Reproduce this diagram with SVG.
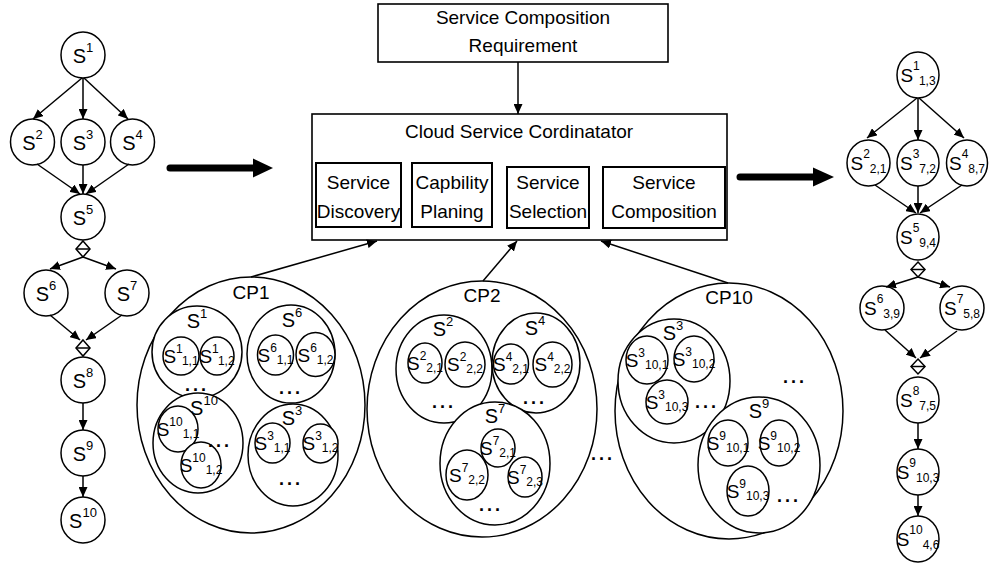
<svg xmlns="http://www.w3.org/2000/svg" width="989" height="565" viewBox="0 0 989 565">
<style>
text{font-family:"Liberation Sans",Arial,sans-serif;fill:#000}
.t{font-size:19px;text-anchor:middle}
.s{font-size:19px;text-anchor:middle}
.L{font-size:20px}
.sm{font-size:12px}
.sl{font-size:13px}
.d{font-size:18px;font-weight:bold;text-anchor:middle;letter-spacing:3px}
.o{fill:#fff;stroke:#000;stroke-width:1.5}
.b{fill:#fff;stroke:#000;stroke-width:1.6}
.sb{fill:#fff;stroke:#000;stroke-width:2}
.c{fill:none;stroke:#000;stroke-width:1.5}
.big{fill:none;stroke:#000;stroke-width:7;stroke-linecap:round}
</style>
<defs>
<marker id="ah" markerWidth="10" markerHeight="9" refX="10" refY="4.5" orient="auto" markerUnits="userSpaceOnUse"><path d="M0,0 L10,4.5 L0,9 z" fill="#000"/></marker>
</defs>

<!-- center boxes -->
<g id="req"><rect class="b" x="378" y="4" width="290" height="58"/>
<text class="t" x="523" y="24">Service Composition</text>
<text class="t" x="523" y="52">Requirement</text></g>
<g id="coord"><rect class="b" x="312" y="114" width="415" height="126"/>
<text class="t" x="519" y="138">Cloud Service Cordinatator</text>
<g id="disc"><rect class="sb" x="316" y="163" width="85" height="64"/><text class="t" x="358.5" y="189">Service</text><text class="t" x="358.5" y="218">Discovery</text></g>
<g id="plan"><rect class="sb" x="412" y="163" width="80" height="64"/><text class="t" x="452" y="189">Capbility</text><text class="t" x="452" y="218">Planing</text></g>
<g id="sel"><rect class="sb" x="507" y="167" width="82" height="61"/><text class="t" x="548" y="189">Service</text><text class="t" x="548" y="218">Selection</text></g>
<g id="comp"><rect class="sb" x="603" y="167" width="122" height="61"/><text class="t" x="664" y="189">Service</text><text class="t" x="664" y="218">Composition</text></g>
</g>

<!-- left workflow -->
<g id="L1"><ellipse class="o" cx="83" cy="55" rx="22" ry="23"/><text class="s L" x="83" y="63">S<tspan class="sl" dy="-11">1</tspan></text></g>
<g id="L2"><ellipse class="o" cx="32.5" cy="142" rx="22" ry="23"/><text class="s L" x="32.5" y="150">S<tspan class="sl" dy="-11">2</tspan></text></g>
<g id="L3"><ellipse class="o" cx="83" cy="142" rx="22" ry="23"/><text class="s L" x="83" y="150">S<tspan class="sl" dy="-11">3</tspan></text></g>
<g id="L4"><ellipse class="o" cx="132.5" cy="142" rx="22" ry="23"/><text class="s L" x="132.5" y="150">S<tspan class="sl" dy="-11">4</tspan></text></g>
<g id="L5"><ellipse class="o" cx="83" cy="217" rx="22" ry="23"/><text class="s L" x="83" y="225">S<tspan class="sl" dy="-11">5</tspan></text></g>
<g id="LD1"><polygon class="o" points="83,241 90,249 83,257 76,249"/><line class="c" x1="76" y1="249" x2="90" y2="249"/></g>
<g id="L6"><ellipse class="o" cx="46" cy="293" rx="22" ry="23"/><text class="s L" x="46" y="301">S<tspan class="sl" dy="-11">6</tspan></text></g>
<g id="L7"><ellipse class="o" cx="127" cy="293" rx="22" ry="23"/><text class="s L" x="127" y="301">S<tspan class="sl" dy="-11">7</tspan></text></g>
<g id="LD2"><polygon class="o" points="83,340 90,348 83,356 76,348"/><line class="c" x1="76" y1="348" x2="90" y2="348"/></g>
<g id="L8"><ellipse class="o" cx="83" cy="380" rx="22" ry="23"/><text class="s L" x="83" y="388">S<tspan class="sl" dy="-11">8</tspan></text></g>
<g id="L9"><ellipse class="o" cx="83" cy="453" rx="22" ry="23"/><text class="s L" x="83" y="461">S<tspan class="sl" dy="-11">9</tspan></text></g>
<g id="L10"><ellipse class="o" cx="83" cy="520" rx="22" ry="23"/><text class="s L" x="83" y="528">S<tspan class="sl" dy="-11">10</tspan></text></g>

<!-- right workflow -->
<g id="R1"><ellipse class="o" cx="918" cy="75" rx="21" ry="23"/><text class="s" x="918" y="82">S<tspan class="sm" dy="-12">1</tspan><tspan class="sm" dy="15">1,3</tspan></text></g>
<g id="R2"><ellipse class="o" cx="868.5" cy="163" rx="21.5" ry="23"/><text class="s" x="868.5" y="170">S<tspan class="sm" dy="-12">2</tspan><tspan class="sm" dy="15">2,1</tspan></text></g>
<g id="R3"><ellipse class="o" cx="918" cy="163" rx="21" ry="23"/><text class="s" x="918" y="170">S<tspan class="sm" dy="-12">3</tspan><tspan class="sm" dy="15">7,2</tspan></text></g>
<g id="R4"><ellipse class="o" cx="967" cy="163" rx="20.5" ry="23"/><text class="s" x="967" y="170">S<tspan class="sm" dy="-12">4</tspan><tspan class="sm" dy="15">8,7</tspan></text></g>
<g id="R5"><ellipse class="o" cx="918" cy="237" rx="21" ry="23"/><text class="s" x="918" y="244">S<tspan class="sm" dy="-12">5</tspan><tspan class="sm" dy="15">9,4</tspan></text></g>
<g id="RD1"><polygon class="o" points="918,262 925,269.5 918,277 911,269.5"/><line class="c" x1="911" y1="269.5" x2="925" y2="269.5"/></g>
<g id="R6"><ellipse class="o" cx="882" cy="308" rx="22" ry="22"/><text class="s" x="882" y="315">S<tspan class="sm" dy="-12">6</tspan><tspan class="sm" dy="15">3,9</tspan></text></g>
<g id="R7"><ellipse class="o" cx="962" cy="308" rx="22" ry="22"/><text class="s" x="962" y="315">S<tspan class="sm" dy="-12">7</tspan><tspan class="sm" dy="15">5,8</tspan></text></g>
<g id="RD2"><polygon class="o" points="918,359 925,366.5 918,374 911,366.5"/><line class="c" x1="911" y1="366.5" x2="925" y2="366.5"/></g>
<g id="R8"><ellipse class="o" cx="918" cy="400" rx="21" ry="23"/><text class="s" x="918" y="407">S<tspan class="sm" dy="-12">8</tspan><tspan class="sm" dy="15">7,5</tspan></text></g>
<g id="R9"><ellipse class="o" cx="918" cy="472" rx="21" ry="23"/><text class="s" x="918" y="479">S<tspan class="sm" dy="-12">9</tspan><tspan class="sm" dy="15">10,3</tspan></text></g>
<g id="R10"><ellipse class="o" cx="918" cy="539" rx="21" ry="23"/><text class="s" x="918" y="546">S<tspan class="sm" dy="-12">10</tspan><tspan class="sm" dy="15">4,6</tspan></text></g>

<!-- CP1 -->
<g id="CP1"><ellipse class="o" cx="251" cy="405" rx="114" ry="128"/><text class="t" x="251" y="299">CP1</text>
<g id="CP1-S1"><ellipse class="o" cx="197" cy="352" rx="45" ry="46"/><text class="s L" x="197" y="328">S<tspan class="sl" dy="-10">1</tspan></text>
<ellipse class="o" cx="181" cy="356" rx="18" ry="19"/><text class="s" x="181" y="363">S<tspan class="sm" dy="-10">1</tspan><tspan class="sm" dy="12">1,1</tspan></text>
<ellipse class="o" cx="217" cy="356" rx="17" ry="19"/><text class="s" x="217" y="363">S<tspan class="sm" dy="-10">1</tspan><tspan class="sm" dy="12">1,2</tspan></text>
<text class="d" x="197" y="391">...</text></g>
<g id="CP1-S6"><ellipse class="o" cx="291" cy="354" rx="44" ry="49"/><text class="s L" x="292" y="327">S<tspan class="sl" dy="-10">6</tspan></text>
<ellipse class="o" cx="275.5" cy="355" rx="18" ry="20"/><text class="s" x="275.5" y="362">S<tspan class="sm" dy="-10">6</tspan><tspan class="sm" dy="12">1,1</tspan></text>
<ellipse class="o" cx="315.5" cy="354.5" rx="19.5" ry="22"/><text class="s" x="315.5" y="362">S<tspan class="sm" dy="-10">6</tspan><tspan class="sm" dy="12">1,2</tspan></text>
<text class="d" x="291" y="394">...</text></g>
<g id="CP1-S10"><ellipse class="o" cx="198" cy="443" rx="45" ry="50"/><text class="s L" x="204" y="415">S<tspan class="sl" dy="-10">10</tspan></text>
<ellipse class="o" cx="178" cy="429" rx="20" ry="23"/><text class="s" x="178" y="436">S<tspan class="sm" dy="-10">10</tspan><tspan class="sm" dy="12">1,1</tspan></text>
<ellipse class="o" cx="201" cy="465" rx="20" ry="23"/><text class="s" x="201" y="472">S<tspan class="sm" dy="-10">10</tspan><tspan class="sm" dy="12">1,2</tspan></text>
<text class="d" x="220" y="447">...</text></g>
<g id="CP1-S3"><ellipse class="o" cx="293" cy="455" rx="45" ry="51"/><text class="s L" x="292" y="425">S<tspan class="sl" dy="-10">3</tspan></text>
<ellipse class="o" cx="272.5" cy="443" rx="17.5" ry="20"/><text class="s" x="272.5" y="450">S<tspan class="sm" dy="-10">3</tspan><tspan class="sm" dy="12">1,1</tspan></text>
<ellipse class="o" cx="320.5" cy="443.5" rx="17.5" ry="19.5"/><text class="s" x="320.5" y="450">S<tspan class="sm" dy="-10">3</tspan><tspan class="sm" dy="12">1,2</tspan></text>
<text class="d" x="291" y="485">...</text></g>
</g>

<!-- CP2 -->
<g id="CP2"><ellipse class="o" cx="482" cy="409" rx="115" ry="128"/><text class="t" x="482" y="302">CP2</text>
<g id="CP2-S2"><ellipse class="o" cx="444" cy="369" rx="48" ry="54"/><text class="s L" x="443" y="336">S<tspan class="sl" dy="-10">2</tspan></text>
<ellipse class="o" cx="425" cy="363" rx="17" ry="20"/><text class="s" x="425" y="370">S<tspan class="sm" dy="-10">2</tspan><tspan class="sm" dy="12">2,1</tspan></text>
<ellipse class="o" cx="465" cy="364.5" rx="20" ry="22.5"/><text class="s" x="465" y="371">S<tspan class="sm" dy="-10">2</tspan><tspan class="sm" dy="12">2,2</tspan></text>
<text class="d" x="444" y="408">...</text></g>
<g id="CP2-S4"><ellipse class="o" cx="536" cy="363" rx="44" ry="50"/><text class="s L" x="535" y="335">S<tspan class="sl" dy="-10">4</tspan></text>
<ellipse class="o" cx="511" cy="364" rx="17.5" ry="20"/><text class="s" x="511" y="371">S<tspan class="sm" dy="-10">4</tspan><tspan class="sm" dy="12">2,1</tspan></text>
<ellipse class="o" cx="552.5" cy="364.5" rx="19.5" ry="22.5"/><text class="s" x="552.5" y="371">S<tspan class="sm" dy="-10">4</tspan><tspan class="sm" dy="12">2,2</tspan></text>
<text class="d" x="535" y="404">...</text></g>
<g id="CP2-S7"><ellipse class="o" cx="495" cy="463.5" rx="55" ry="61.5"/><text class="s L" x="495" y="423">S<tspan class="sl" dy="-10">7</tspan></text>
<ellipse class="o" cx="498" cy="448" rx="17" ry="19"/><text class="s" x="498" y="455">S<tspan class="sm" dy="-10">7</tspan><tspan class="sm" dy="12">2,1</tspan></text>
<ellipse class="o" cx="467" cy="475" rx="21" ry="25"/><text class="s" x="467" y="482">S<tspan class="sm" dy="-10">7</tspan><tspan class="sm" dy="12">2,2</tspan></text>
<ellipse class="o" cx="525" cy="477" rx="17" ry="20"/><text class="s" x="525" y="484">S<tspan class="sm" dy="-10">7</tspan><tspan class="sm" dy="12">2,3</tspan></text>
<text class="d" x="491" y="511">...</text></g>
</g>
<text class="d" x="603" y="460">...</text>

<!-- CP10 -->
<g id="CP10"><ellipse class="o" cx="729" cy="411" rx="114" ry="128"/><text class="t" x="729" y="304">CP10</text>
<g id="CP10-S3"><ellipse class="o" cx="674" cy="381" rx="56" ry="62"/><text class="s L" x="673" y="340">S<tspan class="sl" dy="-10">3</tspan></text>
<ellipse class="o" cx="647" cy="360" rx="21" ry="24"/><text class="s" x="647" y="367">S<tspan class="sm" dy="-10">3</tspan><tspan class="sm" dy="12">10,1</tspan></text>
<ellipse class="o" cx="694" cy="359" rx="20" ry="23"/><text class="s" x="694" y="366">S<tspan class="sm" dy="-10">3</tspan><tspan class="sm" dy="12">10,2</tspan></text>
<ellipse class="o" cx="667" cy="402" rx="21" ry="22"/><text class="s" x="667" y="409">S<tspan class="sm" dy="-10">3</tspan><tspan class="sm" dy="12">10,3</tspan></text>
<text class="d" x="707" y="408">...</text></g>
<text class="d" x="795" y="383">...</text>
<g id="CP10-S9"><ellipse class="o" cx="759" cy="465" rx="61" ry="68"/><text class="s L" x="759" y="418">S<tspan class="sl" dy="-10">9</tspan></text>
<ellipse class="o" cx="728" cy="443" rx="20" ry="23"/><text class="s" x="728" y="450">S<tspan class="sm" dy="-10">9</tspan><tspan class="sm" dy="12">10,1</tspan></text>
<ellipse class="o" cx="779" cy="443" rx="19" ry="23"/><text class="s" x="779" y="450">S<tspan class="sm" dy="-10">9</tspan><tspan class="sm" dy="12">10,2</tspan></text>
<ellipse class="o" cx="748" cy="491" rx="21" ry="25"/><text class="s" x="748" y="498">S<tspan class="sm" dy="-10">9</tspan><tspan class="sm" dy="12">10,3</tspan></text>
<text class="d" x="789" y="502">...</text></g>
</g>

<!-- connectors -->
<g id="connectors">
<line class="c" x1="518" y1="62" x2="518" y2="114" marker-end="url(#ah)"/>
<line class="c" x1="251" y1="277" x2="377" y2="241" marker-end="url(#ah)"/>
<line class="c" x1="483" y1="281" x2="517" y2="241" marker-end="url(#ah)"/>
<line class="c" x1="728" y1="283" x2="601" y2="241" marker-end="url(#ah)"/>
<line class="big" x1="170" y1="168" x2="256" y2="168"/>
<polygon points="253,158.5 273,168 253,177.5" fill="#000"/>
<line class="big" x1="740" y1="177" x2="816" y2="177"/>
<polygon points="813,167.5 834,177 813,186.5" fill="#000"/>
<line class="c" x1="82" y1="78" x2="33" y2="119" marker-end="url(#ah)"/>
<line class="c" x1="83" y1="78" x2="83" y2="119" marker-end="url(#ah)"/>
<line class="c" x1="84" y1="78" x2="128" y2="119" marker-end="url(#ah)"/>
<line class="c" x1="37" y1="164" x2="80" y2="194" marker-end="url(#ah)"/>
<line class="c" x1="83" y1="165" x2="83" y2="194" marker-end="url(#ah)"/>
<line class="c" x1="129" y1="164" x2="86" y2="194" marker-end="url(#ah)"/>
<line class="c" x1="83" y1="257" x2="50" y2="269" marker-end="url(#ah)"/>
<line class="c" x1="83" y1="257" x2="116" y2="269" marker-end="url(#ah)"/>
<line class="c" x1="50" y1="315" x2="80" y2="340" marker-end="url(#ah)"/>
<line class="c" x1="122" y1="315" x2="86" y2="340" marker-end="url(#ah)"/>
<line class="c" x1="83" y1="403" x2="83" y2="430" marker-end="url(#ah)"/>
<line class="c" x1="83" y1="476" x2="83" y2="497" marker-end="url(#ah)"/>
<line class="c" x1="917" y1="98" x2="867" y2="138" marker-end="url(#ah)"/>
<line class="c" x1="918" y1="98" x2="918" y2="140" marker-end="url(#ah)"/>
<line class="c" x1="919" y1="98" x2="964" y2="138" marker-end="url(#ah)"/>
<line class="c" x1="875" y1="185" x2="916" y2="213" marker-end="url(#ah)"/>
<line class="c" x1="918" y1="186" x2="918" y2="213" marker-end="url(#ah)"/>
<line class="c" x1="962" y1="185" x2="920" y2="213" marker-end="url(#ah)"/>
<line class="c" x1="918" y1="277" x2="886" y2="287" marker-end="url(#ah)"/>
<line class="c" x1="918" y1="277" x2="950" y2="287" marker-end="url(#ah)"/>
<line class="c" x1="885" y1="330" x2="916" y2="358" marker-end="url(#ah)"/>
<line class="c" x1="957" y1="331" x2="920" y2="358" marker-end="url(#ah)"/>
<line class="c" x1="918" y1="423" x2="918" y2="449" marker-end="url(#ah)"/>
<line class="c" x1="918" y1="495" x2="918" y2="516" marker-end="url(#ah)"/>
</g>
</svg>
